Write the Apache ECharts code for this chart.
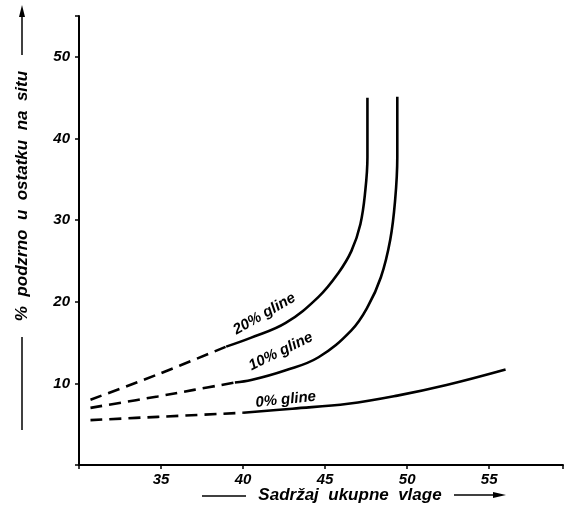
<!DOCTYPE html>
<html><head><meta charset="utf-8">
<script src="https://cdn.jsdelivr.net/npm/echarts@6/dist/echarts.min.js"></script>
<style>html,body{margin:0;padding:0;background:#fff}#c{width:566px;height:505px}</style>
</head><body><div id="c"></div>
<script>
// x tick labels / y tick labels
const xTicks = [35, 40, 45, 50, 55];
const yTicks = [10, 20, 30, 40, 50];
// 0% gline
const g0DashX = [30.7, 34.8, 40.0];
const g0DashY = [5.5, 5.9, 6.4];
const g0SolidX = [40.0, 43.0, 46.4, 49.4, 52.4, 56.0];
const g0SolidY = [6.4, 6.9, 7.5, 8.5, 9.8, 11.7];
// 10% gline
const g10DashX = [30.7, 34.8, 37.0, 39.5];
const g10DashY = [7.0, 8.4, 9.2, 10.1];
const g10SolidX = [39.5, 40.5, 42.6, 44.6, 46.6, 47.6, 48.4, 48.97, 49.27, 49.4, 49.4];
const g10SolidY = [10.1, 10.4, 11.6, 13.2, 16.5, 19.4, 23.0, 27.6, 32.5, 37.7, 45.1];
// 20% gline
const g20DashX = [30.7, 34.8, 38.97];
const g20DashY = [8.0, 11.1, 14.5];
const g20SolidX = [38.97, 40.5, 42.6, 44.6, 45.8, 46.6, 47.15, 47.45, 47.58, 47.58];
const g20SolidY = [14.5, 15.6, 17.4, 20.6, 23.5, 26.2, 29.5, 33.6, 37.7, 45.0];
// curve labels: text, x, y, rotation (deg)
const labelText = ['20% gline', '10% gline', '0% gline'];
const labelX = [41.3, 42.3, 42.6];
const labelY = [18.5, 13.9, 8.0];
const labelRot = [30, 26, 6];

const xName = 'Sadržaj  ukupne  vlage';
const yName = '%  podzrno  u  ostatku  na  situ';

const zip = (a, b) => a.map((v, i) => [v, b[i]]);
const FONT = 'Liberation Sans';
const lineSeries = (x, y, dashed) => ({
  type: 'line', data: zip(x, y), smooth: 0.4, symbol: 'none', silent: true,
  lineStyle: { color: '#000', width: 2.6, type: dashed ? [12, 7] : 'solid', cap: 'butt' }
});

const chart = echarts.init(document.getElementById('c'));
chart.setOption({
  animation: false,
  grid: { left: 79, right: 0, top: 16, bottom: 40 },
  xAxis: {
    type: 'value', min: 30, max: 59.5, interval: 5,
    axisLine: { lineStyle: { color: '#000', width: 2 } },
    axisTick: { show: true, length: 4, lineStyle: { color: '#000', width: 1.5 } },
    splitLine: { show: false },
    axisLabel: {
      color: '#000', fontFamily: FONT, fontStyle: 'italic', fontWeight: 'bold', fontSize: 15, margin: 7,
      formatter: v => (xTicks.indexOf(v) >= 0 ? String(v) : '')
    }
  },
  yAxis: {
    type: 'value', min: 0, max: 55, interval: 10,
    axisLine: { lineStyle: { color: '#000', width: 2 } },
    axisTick: { show: true, length: 4, lineStyle: { color: '#000', width: 1.5 } },
    splitLine: { show: false },
    axisLabel: {
      color: '#000', fontFamily: FONT, fontStyle: 'italic', fontWeight: 'bold', fontSize: 15, margin: 9,
      formatter: v => (yTicks.indexOf(v) >= 0 ? String(v) : '')
    }
  },
  series: [
    lineSeries(g0DashX, g0DashY, true), lineSeries(g0SolidX, g0SolidY, false),
    lineSeries(g10DashX, g10DashY, true), lineSeries(g10SolidX, g10SolidY, false),
    lineSeries(g20DashX, g20DashY, true), lineSeries(g20SolidX, g20SolidY, false)
  ]
});

const textStyle = (txt, size) => ({
  text: txt, fill: '#000', font: `italic bold ${size}px "${FONT}"`, align: 'center', verticalAlign: 'middle'
});
const graphics = labelText.map((t, i) => {
  const p = chart.convertToPixel({ gridIndex: 0 }, [labelX[i], labelY[i]]);
  return { type: 'text', x: p[0], y: p[1], rotation: labelRot[i] * Math.PI / 180, style: textStyle(t, 15) };
});
// x axis name with lines and arrow
graphics.push({ type: 'text', x: 350, y: 495, style: textStyle(xName, 17) });
graphics.push({ type: 'line', shape: { x1: 202, y1: 496, x2: 246, y2: 496 }, style: { stroke: '#000', lineWidth: 1.5 } });
graphics.push({ type: 'line', shape: { x1: 454, y1: 495, x2: 500, y2: 495 }, style: { stroke: '#000', lineWidth: 1.5 } });
graphics.push({ type: 'polygon', shape: { points: [[506, 495], [493, 492], [493, 498]] }, style: { fill: '#000' } });
// y axis name with lines and arrow
graphics.push({ type: 'text', x: 22, y: 196, rotation: Math.PI / 2, style: textStyle(yName, 17) });
graphics.push({ type: 'line', shape: { x1: 22, y1: 337, x2: 22, y2: 430 }, style: { stroke: '#000', lineWidth: 1.5 } });
graphics.push({ type: 'line', shape: { x1: 22, y1: 14, x2: 22, y2: 55 }, style: { stroke: '#000', lineWidth: 1.5 } });
graphics.push({ type: 'polygon', shape: { points: [[22, 5], [19, 17], [25, 17]] }, style: { fill: '#000' } });
chart.setOption({ graphic: graphics });
</script>
</body></html>
